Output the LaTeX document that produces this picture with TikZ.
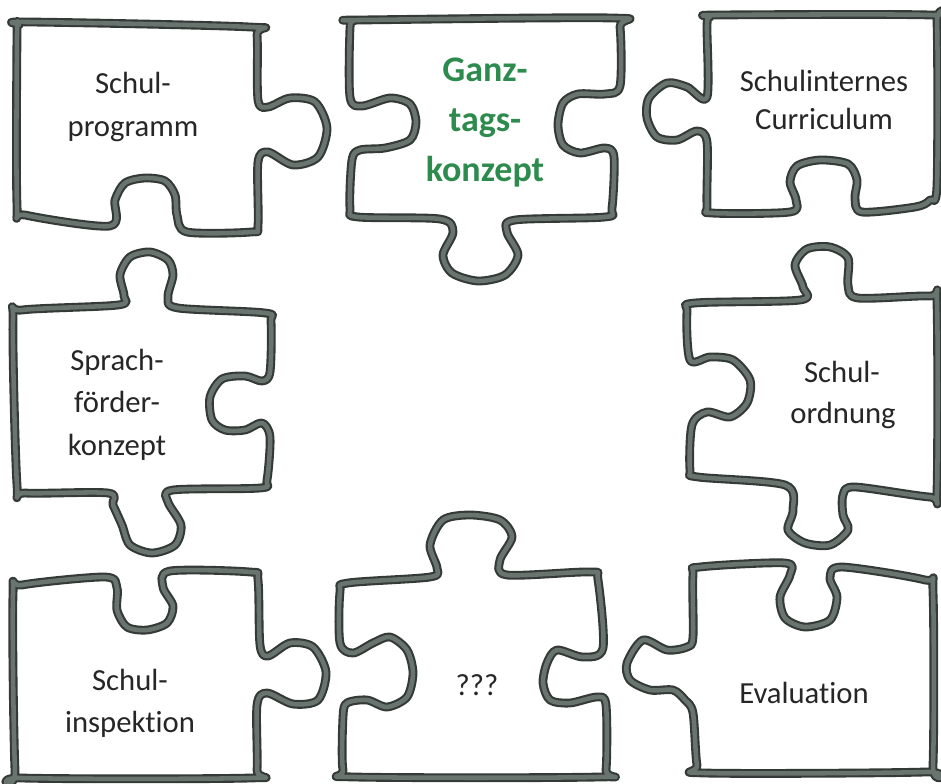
\documentclass[tikz,border=0pt]{standalone}
\usepackage{fontspec}
\setmainfont{Carlito}[Ligatures=NoCommon]
\definecolor{edgedark}{HTML}{343A38}
\definecolor{edgemid}{HTML}{69746F}
\definecolor{txt}{HTML}{262626}
\definecolor{ganzgreen}{HTML}{2E8B4E}
\tikzset{
  pieceouter/.style={draw=edgedark, line width=6.6pt, line join=round},
  pieceinner/.style={draw=edgemid, line width=3.4pt, line join=round},
  lbl/.style={font=\fontsize{23pt}{27pt}\selectfont, text=txt, inner sep=0pt, anchor=base},
  glbl/.style={font=\fontsize{27pt}{30pt}\selectfont\bfseries, text=ganzgreen, inner sep=0pt, anchor=base}
}
\newcommand\puzzlepiece[1]{%
  \draw[pieceouter] plot[smooth cycle, tension=0.5] coordinates {#1};
  \draw[pieceinner] plot[smooth cycle, tension=0.5] coordinates {#1};
}
\begin{document}
\begin{tikzpicture}[x=0.75pt, y=-0.75pt]
\fill[white] (0,0) rectangle (941,784);
\useasboundingbox (0,0) rectangle (941,784);

% 1 Schulprogramm
\puzzlepiece{(28,22) (250,27) (257,35) (258,100) (268,107) (290,98) (315,102) (327,128) (318,157) (293,165) (268,152) (258,162) (258,225) (251,232) (187,232) (177,215) (175,195) (165,181) (145,178) (125,183) (115,200) (110,226) (25,215) (17,205) (17,35) (19,25)}
% 2 Ganztagskonzept
\puzzlepiece{(360,20) (612,18) (620,27) (620,86) (605,94) (578,94) (563,103) (558,125) (563,145) (580,153) (605,148) (614,157) (612,208) (605,217) (515,220) (507,232) (518,255) (505,275) (478,281) (452,273) (443,255) (453,232) (440,219) (358,217) (350,208) (352,160) (360,150) (385,148) (410,140) (416,122) (410,104) (390,98) (362,106) (350,97) (350,28) (354,21)}
% 3 Schulinternes Curriculum
\puzzlepiece{(718,15) (930,15) (937,23) (937,185) (930,200) (915,207) (862,212) (855,198) (857,180) (848,164) (820,160) (797,166) (790,182) (796,200) (790,212) (712,213) (707,205) (707,142) (697,131) (677,140) (657,137) (647,118) (649,98) (667,83) (687,87) (707,97) (707,25) (710,17)}
% 4 Sprachfoerderkonzept
\puzzlepiece{(22,310) (118,305) (124,296) (120,275) (130,257) (150,252) (168,260) (173,275) (168,297) (178,308) (265,313) (271,322) (270,372) (262,381) (245,376) (222,379) (210,397) (212,420) (225,430) (245,430) (262,423) (270,437) (267,480) (260,488) (173,490) (168,502) (181,525) (175,545) (152,553) (130,545) (122,525) (113,505) (108,493) (25,493) (17,485) (13,320)}
% 5 Schulordnung
\puzzlepiece{(695,303) (800,300) (803,287) (795,265) (807,249) (830,247) (848,258) (848,285) (858,298) (930,296) (937,304) (937,490) (930,497) (855,487) (843,495) (843,515) (848,530) (830,545) (805,543) (788,530) (793,510) (785,485) (698,477) (690,470) (692,425) (707,412) (730,417) (747,403) (750,380) (733,360) (710,357) (690,360) (687,312)}
% 6 Schulinspektion
\puzzlepiece{(22,585) (105,577) (117,588) (117,610) (127,627) (147,630) (167,623) (173,606) (163,587) (170,571) (250,572) (258,580) (260,645) (268,656) (290,643) (313,647) (326,672) (318,700) (293,704) (267,693) (257,705) (257,770) (250,778) (22,778) (15,770) (13,595)}
% 7 ???
\puzzlepiece{(348,583) (430,577) (437,568) (430,545) (443,520) (470,515) (500,520) (512,537) (500,560) (507,575) (590,572) (598,580) (603,648) (583,657) (557,650) (547,663) (543,683) (550,700) (570,703) (597,697) (606,705) (606,770) (598,777) (355,777) (343,770) (343,717) (347,703) (367,700) (387,707) (407,697) (413,673) (407,650) (390,637) (373,643) (353,653) (340,643) (340,592)}
% 8 Evaluation
\puzzlepiece{(700,567) (785,563) (790,575) (780,597) (785,618) (805,627) (830,620) (837,597) (830,578) (842,567) (925,580) (933,592) (933,765) (925,772) (705,773) (697,765) (693,713) (685,700) (673,690) (650,690) (630,680) (627,663) (643,640) (667,650) (687,647) (693,637) (693,575)}

% labels
\node[lbl] (p1a) at (133,94) {Schul-};
\node[lbl] (p1b) at (133,137) {programm};
\node[glbl] (p2a) at (485,82) {Ganz-};
\node[glbl] (p2b) at (485,132) {tags-};
\node[glbl] (p2c) at (485,182) {konzept};
\node[lbl] (p3a) at (824,92) {Schulinternes};
\node[lbl] (p3b) at (824,130) {Curriculum};
\node[lbl] (p4a) at (117,370) {Sprach-};
\node[lbl] (p4b) at (117,412) {förder-};
\node[lbl] (p4c) at (117,455) {konzept};
\node[lbl] (p5a) at (842,382) {Schul-};
\node[lbl] (p5b) at (843,423) {ordnung};
\node[lbl] (p6a) at (130,690) {Schul-};
\node[lbl] (p6b) at (130,732) {inspektion};
\node[lbl] (p7a) at (477,695) {???};
\node[lbl] (p8a) at (804,703) {Evaluation};
\end{tikzpicture}
\end{document}
